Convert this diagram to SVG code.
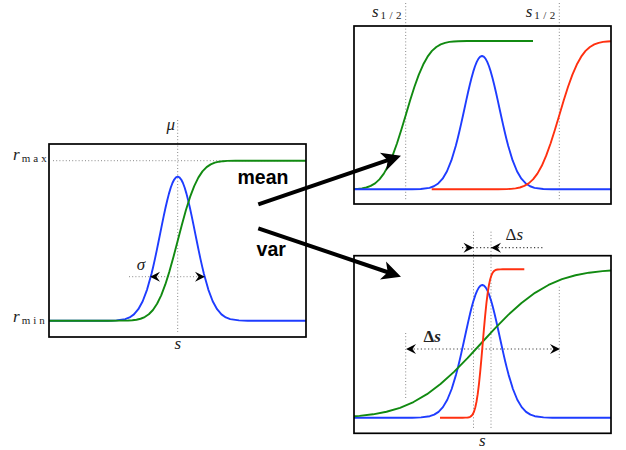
<svg xmlns="http://www.w3.org/2000/svg" xmlns:xlink="http://www.w3.org/1999/xlink" width="626" height="450" viewBox="0 0 626 450">
<style>
.box{fill:none;stroke:#000;stroke-width:1.7}
.cv{fill:none;stroke-width:1.9;stroke-linejoin:round}
.ns{vector-effect:non-scaling-stroke}
.b{stroke:#1e3cff}.g{stroke:#118a11}.r{stroke:#ff3010}
.dot{fill:none;stroke:#888;stroke-width:1;stroke-dasharray:1 2.2}
.dotk{fill:none;stroke:#444;stroke-width:1.2;stroke-dasharray:1.2 2.4}
.m{font-family:"Liberation Serif",serif;font-style:italic;font-size:17px;fill:#222}
.sub{font-family:"Liberation Serif",serif;font-style:normal;font-size:11px;fill:#222}
.up{font-style:normal}
.lbl{font-family:"Liberation Sans",Arial,sans-serif;font-weight:bold;font-size:19.5px;fill:#000;text-anchor:middle}
.conn{fill:none;stroke:#000;stroke-width:4}
</style>
<defs>
<path id="gauss" class="ns" d="M-40 0 L-4 0 L-3.5 -0.0022 L-3 -0.0111 L-2.75 -0.0228 L-2.5 -0.0439 L-2.25 -0.0796 L-2 -0.1353 L-1.75 -0.2163 L-1.5 -0.3247 L-1.4 -0.3753 L-1.3 -0.4296 L-1.2 -0.4868 L-1.1 -0.5461 L-1 -0.6065 L-0.9 -0.667 L-0.8 -0.7262 L-0.7 -0.7827 L-0.6 -0.8353 L-0.5 -0.8825 L-0.4 -0.9231 L-0.3 -0.956 L-0.2 -0.9802 L-0.1 -0.995 L0 -1 L0.1 -0.995 L0.2 -0.9802 L0.3 -0.956 L0.4 -0.9231 L0.5 -0.8825 L0.6 -0.8353 L0.7 -0.7827 L0.8 -0.7262 L0.9 -0.667 L1 -0.6065 L1.1 -0.5461 L1.2 -0.4868 L1.3 -0.4296 L1.4 -0.3753 L1.5 -0.3247 L1.75 -0.2163 L2 -0.1353 L2.25 -0.0796 L2.5 -0.0439 L2.75 -0.0228 L3 -0.0111 L3.5 -0.0022 L4 0 L40 0"/>
<path id="cdf" class="ns" d="M-40 0 L-4 0 L-3.5 -0.0002 L-3 -0.0013 L-2.75 -0.003 L-2.5 -0.0062 L-2.25 -0.0122 L-2 -0.0228 L-1.75 -0.0401 L-1.5 -0.0668 L-1.25 -0.1057 L-1 -0.1587 L-0.75 -0.2266 L-0.5 -0.3085 L-0.25 -0.4013 L0 -0.5 L0.25 -0.5987 L0.5 -0.6915 L0.75 -0.7734 L1 -0.8413 L1.25 -0.8943 L1.5 -0.9332 L1.75 -0.9599 L2 -0.9772 L2.25 -0.9878 L2.5 -0.9938 L2.75 -0.997 L3 -0.9987 L3.5 -0.9998 L4 -1 L40 -1"/>
<path id="sh" d="M0 0 L-10 -5 L-6.5 0 L-10 5 Z" fill="#000"/>
<clipPath id="cL" clipPathUnits="userSpaceOnUse"><rect x="49" y="130" width="257" height="210"/></clipPath>
<clipPath id="cTR" clipPathUnits="userSpaceOnUse"><rect x="354" y="20" width="257" height="190"/></clipPath>
<clipPath id="cTRg" clipPathUnits="userSpaceOnUse"><rect x="354" y="20" width="179" height="190"/></clipPath>
<clipPath id="cTRr" clipPathUnits="userSpaceOnUse"><rect x="431.7" y="20" width="179.3" height="190"/></clipPath>
<clipPath id="cBR" clipPathUnits="userSpaceOnUse"><rect x="354" y="250" width="257" height="190"/></clipPath>
<clipPath id="cBRr" clipPathUnits="userSpaceOnUse"><rect x="440" y="250" width="84.3" height="190"/></clipPath>
<marker id="big" markerUnits="userSpaceOnUse" viewBox="-12 -12 24 24" markerWidth="24" markerHeight="24" refX="0" refY="0" orient="auto">
<path d="M10 0 L-9 -9.5 L-4 0 L-9 9.5 Z" fill="#000"/>
</marker>
</defs>

<g id="panel-left">
<line class="dot" x1="53" y1="160.7" x2="306" y2="160.7"/>
<line class="dot" x1="177.7" y1="120" x2="177.7" y2="332"/>
<line class="dot" x1="129" y1="276.7" x2="200" y2="276.7"/>
<g clip-path="url(#cL)">
<use xlink:href="#gauss" class="cv b" transform="translate(177.7 320.7) scale(17.5 144)"/>
<use xlink:href="#cdf" class="cv g" transform="translate(177.7 320.7) scale(16.5 160)"/>
</g>
<use xlink:href="#sh" transform="translate(150 276.7) rotate(180)"/>
<use xlink:href="#sh" transform="translate(205 276.7)"/>
<rect class="box" x="49" y="144" width="257" height="193"/>
<text class="m" x="170.7" y="130" text-anchor="middle">μ</text>
<text class="m" x="141" y="270" text-anchor="middle">σ</text>
<text class="m" x="177.7" y="349" text-anchor="middle">s</text>
<text class="m" x="13" y="160">r</text><text class="sub" x="21.7" y="162" textLength="25" lengthAdjust="spacing">max</text>
<text class="m" x="13" y="322">r</text><text class="sub" x="21.7" y="324" textLength="23" lengthAdjust="spacing">min</text>
</g>

<g id="panel-top-right">
<line class="dot" x1="405.7" y1="3" x2="405.7" y2="200"/>
<line class="dot" x1="559.3" y1="3" x2="559.3" y2="200"/>
<g clip-path="url(#cTRg)">
<use xlink:href="#cdf" class="cv g" transform="translate(405.7 189.3) scale(17.5 148.3)"/>
</g>
<g clip-path="url(#cTR)">
<use xlink:href="#gauss" class="cv b" transform="translate(482 189.3) scale(17.5 133.3)"/>
</g>
<g clip-path="url(#cTRr)">
<use xlink:href="#cdf" class="cv r" transform="translate(559.3 189.3) scale(17.5 148.3)"/>
</g>
<rect class="box" x="354" y="26" width="257" height="178"/>
<text class="m" x="372" y="16.7">s</text><text class="sub" x="380.5" y="18.5" textLength="21" lengthAdjust="spacing">1/2</text>
<text class="m" x="525.7" y="16.7">s</text><text class="sub" x="534.2" y="18.5" textLength="21" lengthAdjust="spacing">1/2</text>
</g>

<g id="panel-bottom-right">
<line class="dot" x1="473.5" y1="231.7" x2="473.5" y2="428"/>
<line class="dot" x1="491" y1="231.7" x2="491" y2="428"/>
<line class="dot" x1="405.7" y1="333" x2="405.7" y2="400"/>
<line class="dot" x1="559.3" y1="286.7" x2="559.3" y2="360"/>
<line class="dotk" x1="462" y1="247.7" x2="543" y2="247.7"/>
<line class="dotk" x1="410" y1="349" x2="556" y2="349"/>
<g clip-path="url(#cBR)">
<use xlink:href="#gauss" class="cv b" transform="translate(482.3 417.7) scale(17.5 132.7)"/>
<use xlink:href="#cdf" class="cv g" transform="translate(481 417.7) scale(54 148.4)"/>
</g>
<g clip-path="url(#cBRr)">
<use xlink:href="#cdf" class="cv r" transform="translate(482.7 417.7) scale(5 148.4)"/>
</g>
<use xlink:href="#sh" transform="translate(473.5 247.7)"/>
<use xlink:href="#sh" transform="translate(491 247.7) rotate(180)"/>
<use xlink:href="#sh" transform="translate(406 349) rotate(180)"/>
<use xlink:href="#sh" transform="translate(560 349)"/>
<rect class="box" x="354" y="255.7" width="257" height="177.6"/>
<text class="m" x="505.5" y="240.3"><tspan class="up">Δ</tspan>s</text>
<text class="m" x="423.5" y="341.7" font-weight="bold"><tspan class="up">Δ</tspan>s</text>
<text class="m" x="482.3" y="446" text-anchor="middle">s</text>
</g>

<g id="label-mean"><text class="lbl" x="263" y="184">mean</text></g>
<g id="label-var"><text class="lbl" x="271.2" y="256">var</text></g>

<g id="connectors">
<line class="conn" x1="258.3" y1="204.3" x2="391.5" y2="158.9" marker-end="url(#big)"/>
<line class="conn" x1="258.3" y1="228.3" x2="391.5" y2="273.5" marker-end="url(#big)"/>
</g>
</svg>
